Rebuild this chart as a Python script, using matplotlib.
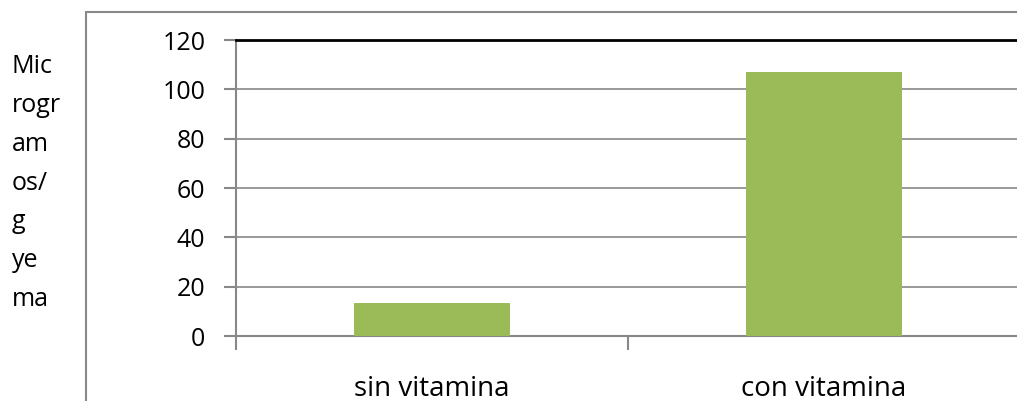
import numpy as np
import matplotlib.pyplot as plt
from matplotlib.patches import Rectangle

# Datos
categorias = ['sin vitamina', 'con vitamina']
valores = [13.3, 107.2]
yticks = [0, 20, 40, 60, 80, 100, 120]
etiqueta_y = 'Mic\nrogr\nam\nos/\ng\nye\nma'

plt.rcParams['font.family'] = ['Open Sans', 'DejaVu Sans']

fig = plt.figure(figsize=(10.17, 4.01), dpi=100)
ax = fig.add_axes([236 / 1017, 1 - 336 / 401, 784 / 1017, 296 / 401])

# marco exterior del grafico (recortado por la derecha y abajo)
fig.patches.append(Rectangle((86 / 1017, -0.1), 1.2, 1 - 12 / 401 + 0.1,
                             transform=fig.transFigure, fill=False,
                             edgecolor='#888888', linewidth=1.5))

x = np.arange(len(categorias))
ax.bar(x, valores, width=0.4, color='#9BBB59', zorder=3)

ax.set_xlim(-0.5, 1.5)
ax.set_ylim(0, 120)
ax.set_yticks(yticks)
ax.set_yticklabels([str(t) for t in yticks], fontsize=18)

# ticks de categoria en los limites, etiquetas en el centro
ax.set_xticks([-0.5, 0.5, 1.5])
ax.set_xticklabels([])
ax.set_xticks(x, minor=True)
ax.set_xticklabels(categorias, minor=True, fontsize=20)
ax.tick_params(axis='x', which='minor', length=0, pad=28)
ax.tick_params(axis='x', which='major', length=10, width=1.5, color='#888888')
ax.tick_params(axis='y', length=9, width=1.5, color='#888888', pad=13)

ax.yaxis.grid(True, color='#888888', linewidth=1.2, zorder=0)
ax.set_axisbelow(True)

for s in ['left', 'bottom']:
    ax.spines[s].set_color('#888888')
    ax.spines[s].set_linewidth(1.5)
ax.spines['right'].set_visible(False)
ax.spines['top'].set_color('black')
ax.spines['top'].set_linewidth(2)

fig.text(12 / 1017, 1 - 54 / 401, etiqueta_y, fontsize=18, ha='left', va='top',
         linespacing=1.73)

fig.savefig('out.png', dpi=100)
